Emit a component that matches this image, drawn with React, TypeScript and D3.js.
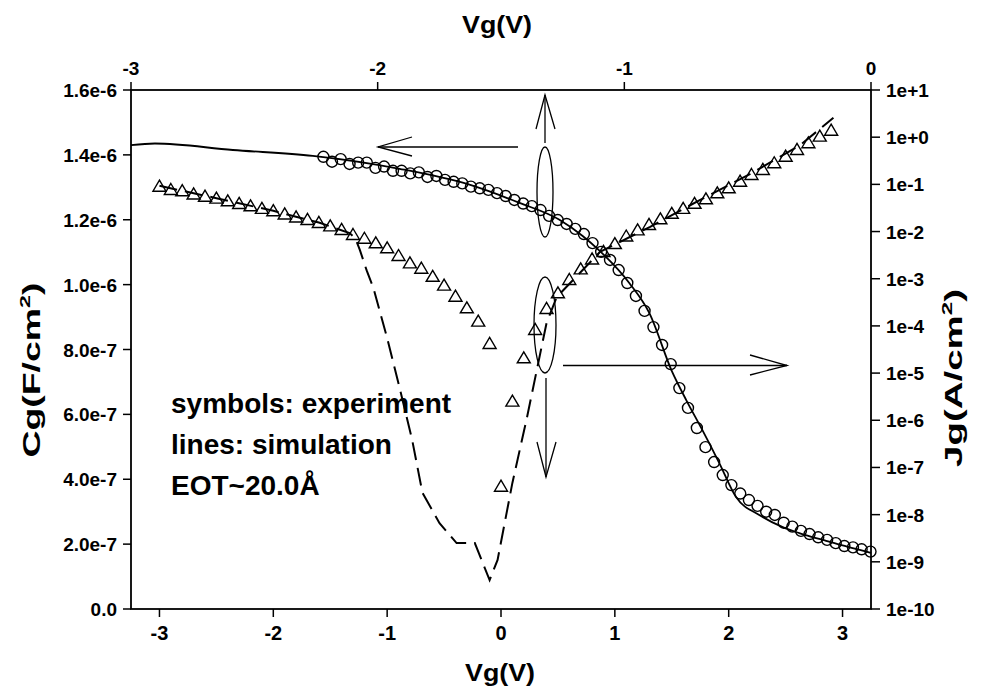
import React from "react";
import * as d3 from "d3";

// C-V measurement (top Vg axis, left Cg axis)
const capVg = [
  -2.220, -2.185, -2.150, -2.114, -2.079, -2.044, -2.009, -1.974, -1.938, -1.903,
  -1.868, -1.833, -1.798, -1.762, -1.727, -1.692, -1.657, -1.622, -1.586, -1.551,
  -1.516, -1.481, -1.446, -1.410, -1.375, -1.340, -1.305, -1.270, -1.234, -1.199,
  -1.164, -1.129, -1.094, -1.058, -1.023, -0.988, -0.953, -0.918, -0.882, -0.847,
  -0.812, -0.777, -0.742, -0.706, -0.671, -0.636, -0.601, -0.566, -0.530, -0.495,
  -0.460, -0.425, -0.390, -0.354, -0.319, -0.284, -0.249, -0.214, -0.178, -0.143,
  -0.108, -0.073, -0.038, -0.002,
];
const capCg = [
  1.394e-6, 1.379e-6, 1.387e-6, 1.372e-6, 1.376e-6, 1.376e-6, 1.360e-6, 1.364e-6, 1.351e-6, 1.351e-6,
  1.343e-6, 1.346e-6, 1.332e-6, 1.335e-6, 1.323e-6, 1.317e-6, 1.312e-6, 1.302e-6, 1.297e-6, 1.292e-6,
  1.282e-6, 1.273e-6, 1.261e-6, 1.250e-6, 1.242e-6, 1.230e-6, 1.212e-6, 1.199e-6, 1.187e-6, 1.172e-6,
  1.156e-6, 1.128e-6, 1.101e-6, 1.076e-6, 1.045e-6, 1.005e-6, 0.965e-6, 0.919e-6, 0.869e-6, 0.814e-6,
  0.755e-6, 0.681e-6, 0.620e-6, 0.558e-6, 0.499e-6, 0.453e-6, 0.413e-6, 0.382e-6, 0.356e-6, 0.336e-6,
  0.318e-6, 0.300e-6, 0.290e-6, 0.266e-6, 0.254e-6, 0.241e-6, 0.231e-6, 0.221e-6, 0.213e-6, 0.203e-6,
  0.194e-6, 0.190e-6, 0.184e-6, 0.177e-6,
];

// C-V simulation
const capSimVg = [
  -3.000, -2.903, -2.587, -2.263, -1.911, -1.628, -1.425, -1.263, -1.169, -1.101,
  -0.980, -0.899, -0.806, -0.749, -0.684, -0.615, -0.547, -0.453, -0.360, -0.291,
  -0.182, 0.000,
];
const capSimCg = [
  1.430e-6, 1.435e-6, 1.415e-6, 1.397e-6, 1.357e-6, 1.308e-6, 1.252e-6, 1.200e-6, 1.150e-6, 1.105e-6,
  1.005e-6, 0.913e-6, 0.731e-6, 0.644e-6, 0.552e-6, 0.450e-6, 0.345e-6, 0.290e-6, 0.253e-6, 0.234e-6,
  0.210e-6, 0.173e-6,
];

// J-V measurement (bottom Vg axis, right Jg axis)
const curVg = [
  -3.0, -2.9, -2.8, -2.7, -2.6, -2.5, -2.4, -2.3, -2.2, -2.1,
  -2.0, -1.9, -1.8, -1.7, -1.6, -1.5, -1.4, -1.3, -1.2, -1.1,
  -1.0, -0.9, -0.8, -0.7, -0.6, -0.5, -0.4, -0.3, -0.2, -0.1,
  0.0, 0.1, 0.2, 0.3, 0.4, 0.5, 0.6, 0.7, 0.8, 0.9,
  1.0, 1.1, 1.2, 1.3, 1.4, 1.5, 1.6, 1.7, 1.8, 1.9,
  2.0, 2.1, 2.2, 2.3, 2.4, 2.5, 2.6, 2.7, 2.8, 2.9,
];
const curJg = [
  8.93e-2, 7.60e-2, 7.16e-2, 6.11e-2, 5.48e-2, 4.98e-2, 4.38e-2, 3.84e-2, 3.43e-2, 3.03e-2,
  2.70e-2, 2.30e-2, 1.99e-2, 1.76e-2, 1.52e-2, 1.29e-2, 1.08e-2, 8.45e-3, 7.03e-3, 5.64e-3,
  4.42e-3, 3.03e-3, 2.12e-3, 1.63e-3, 1.10e-3, 7.13e-4, 4.16e-4, 2.36e-4, 1.23e-4, 4.14e-5,
  3.91e-8, 2.48e-6, 2.06e-5, 8.20e-5, 2.29e-4, 4.91e-4, 9.40e-4, 1.58e-3, 2.56e-3, 3.69e-3,
  5.44e-3, 7.85e-3, 1.06e-2, 1.38e-2, 1.82e-2, 2.38e-2, 3.03e-2, 3.87e-2, 4.83e-2, 6.47e-2,
  8.26e-2, 0.114, 0.158, 0.202, 0.280, 0.386, 0.536, 0.743, 1.03, 1.37,
];

// J-V simulation
const curSimVg = [
  -3.00, -2.50, -2.00, -1.60, -1.33, -1.28, -1.24, -1.18, -1.12, -1.00,
  -0.89, -0.78, -0.69, -0.54, -0.39, -0.23, -0.10, -0.03, 0.10, 0.23,
  0.32, 0.40, 0.49, 0.87, 1.31, 1.75, 2.19, 2.63, 2.92,
];
const curSimJg = [
  9.3e-2, 5.1e-2, 2.75e-2, 1.55e-2, 9.3e-3, 7.2e-3, 4.1e-3, 1.5e-3, 6.3e-4, 5.5e-5,
  4.8e-6, 3.8e-7, 2.9e-8, 6.6e-9, 2.5e-9, 2.5e-9, 4.1e-10, 1.1e-9, 4.7e-8, 1.2e-6,
  1.35e-5, 1.15e-4, 4.1e-4, 3.7e-3, 1.26e-2, 4.7e-2, 0.166, 0.684, 2.57,
];

const bottomTicks = [-3, -2, -1, 0, 1, 2, 3];
const topTicks = [-3, -2, -1, 0];
const leftTicks = [0, 2e-7, 4e-7, 6e-7, 8e-7, 1.0e-6, 1.2e-6, 1.4e-6, 1.6e-6];
const rightTicks = [1e-10, 1e-9, 1e-8, 1e-7, 1e-6, 1e-5, 1e-4, 1e-3, 1e-2, 1e-1, 1e0, 1e1];

const notes = ["symbols: experiment", "lines: simulation", "EOT~20.0Å"];

const W = 988;
const H = 690;
const plot = { left: 131, right: 871, top: 90, bottom: 609 };
const FONT = "'Liberation Sans', Arial, sans-serif";

export default function App() {
  const xBot = d3.scaleLinear().domain([-3.25, 3.25]).range([plot.left, plot.right]);
  const xTop = d3.scaleLinear().domain([-3, 0]).range([plot.left, plot.right]);
  const yLeft = d3.scaleLinear().domain([0, 1.6e-6]).range([plot.bottom, plot.top]);
  const yRight = d3.scaleLog().domain([1e-10, 1e1]).range([plot.bottom, plot.top]);

  const capSimLine = d3
    .line<number>()
    .x((_, i) => xTop(capSimVg[i]))
    .y((d) => yLeft(d))
    .curve(d3.curveMonotoneX)(capSimCg) as string;

  const curSimLine = d3
    .line<number>()
    .x((_, i) => xBot(curSimVg[i]))
    .y((d) => yRight(d))(curSimJg) as string;

  const fmtLeft = (v: number) => (v === 0 ? "0.0" : d3.format(".1e")(v));
  const fmtRight = d3.format(".0e");

  const tickLen = 8;
  const axisW = 1.8;

  return (
    <svg width={W} height={H} viewBox={`0 0 ${W} ${H}`} style={{ display: "block", position: "absolute", left: 0, top: 0, background: "#fff" }} fontFamily={FONT}>
      <rect x={0} y={0} width={W} height={H} fill="#fff" />

      {/* frame */}
      <rect x={plot.left} y={plot.top} width={plot.right - plot.left} height={plot.bottom - plot.top} fill="none" stroke="#000" strokeWidth={axisW} />

      {/* bottom axis */}
      {bottomTicks.map((t) => (
        <g key={`b${t}`}>
          <line x1={xBot(t)} x2={xBot(t)} y1={plot.bottom} y2={plot.bottom + tickLen} stroke="#000" strokeWidth={1.5} />
          <text x={xBot(t)} y={plot.bottom + 31} textAnchor="middle" fontSize={20} fontWeight="bold">{t}</text>
        </g>
      ))}
      {/* top axis */}
      {topTicks.map((t) => (
        <g key={`t${t}`}>
          <line x1={xTop(t)} x2={xTop(t)} y1={plot.top} y2={plot.top - tickLen} stroke="#000" strokeWidth={1.5} />
          <text x={xTop(t)} y={plot.top - 15} textAnchor="middle" fontSize={19} fontWeight="bold">{t}</text>
        </g>
      ))}
      {/* left axis */}
      {leftTicks.map((t) => (
        <g key={`l${t}`}>
          <line x1={plot.left - tickLen} x2={plot.left} y1={yLeft(t)} y2={yLeft(t)} stroke="#000" strokeWidth={1.5} />
          <text x={plot.left - 14} y={yLeft(t) + 7} textAnchor="end" fontSize={19} fontWeight="bold">{fmtLeft(t)}</text>
        </g>
      ))}
      {/* right axis */}
      {rightTicks.map((t) => (
        <g key={`r${t}`}>
          <line x1={plot.right} x2={plot.right + tickLen + 1} y1={yRight(t)} y2={yRight(t)} stroke="#000" strokeWidth={1.5} />
          <text x={plot.right + 15} y={yRight(t) + 7} textAnchor="start" fontSize={19} fontWeight="bold">{fmtRight(t)}</text>
        </g>
      ))}

      {/* axis titles */}
      <text x={497} y={33} textAnchor="middle" fontSize={24} fontWeight="bold" textLength={70} lengthAdjust="spacingAndGlyphs">Vg(V)</text>
      <text x={500} y={681} textAnchor="middle" fontSize={24} fontWeight="bold" textLength={70} lengthAdjust="spacingAndGlyphs">Vg(V)</text>
      <text transform={`translate(40,370) rotate(-90)`} textAnchor="middle" fontSize={24} fontWeight="bold" textLength={175} lengthAdjust="spacingAndGlyphs">
        Cg(F/cm<tspan dy={-10} fontSize={15}>2</tspan><tspan dy={10}>)</tspan>
      </text>
      <text transform={`translate(962,378) rotate(-90)`} textAnchor="middle" fontSize={24} fontWeight="bold" textLength={178} lengthAdjust="spacingAndGlyphs">
        Jg(A/cm<tspan dy={-10} fontSize={15}>2</tspan><tspan dy={10}>)</tspan>
      </text>

      {/* simulation curves */}
      <path d={capSimLine} fill="none" stroke="#000" strokeWidth={1.8} />
      <path d={curSimLine} fill="none" stroke="#000" strokeWidth={2} strokeDasharray="18,8" />

      {/* measured C-V */}
      {capCg.map((c, i) => (
        <circle key={`c${i}`} cx={xTop(capVg[i])} cy={yLeft(c)} r={5.5} fill="none" stroke="#000" strokeWidth={1.4} />
      ))}
      {/* measured J-V */}
      {curJg.map((j, i) => (
        <path key={`j${i}`} transform={`translate(${xBot(curVg[i])},${yRight(j)})`} d="M0,-6.5 L6.5,4.5 L-6.5,4.5 Z" fill="none" stroke="#000" strokeWidth={1.4} />
      ))}

      {/* curve-to-axis markers */}
      <g fill="none" stroke="#000" strokeWidth={1.3}>
        <ellipse cx={545} cy={192} rx={8} ry={45} />
        <ellipse cx={545} cy={325} rx={11} ry={48} />
        <line x1={518} y1={147} x2={378} y2={147} />
        <polyline points="412,137 378,147 412,156" />
        <line x1={545} y1={95} x2={545} y2={143} />
        <polyline points="536,129 545,95 555,129" />
        <line x1={546} y1={378} x2={546} y2={477} />
        <polyline points="537,442 546,477 556,442" />
        <line x1={563} y1={365.5} x2={787} y2={365.5} />
        <polyline points="750,355 787,365.5 750,375" />
      </g>

      {/* notes */}
      {notes.map((n, i) => (
        <text key={n} x={171} y={413 + i * 41} fontSize={28} fontWeight="bold">{n}</text>
      ))}
    </svg>
  );
}
